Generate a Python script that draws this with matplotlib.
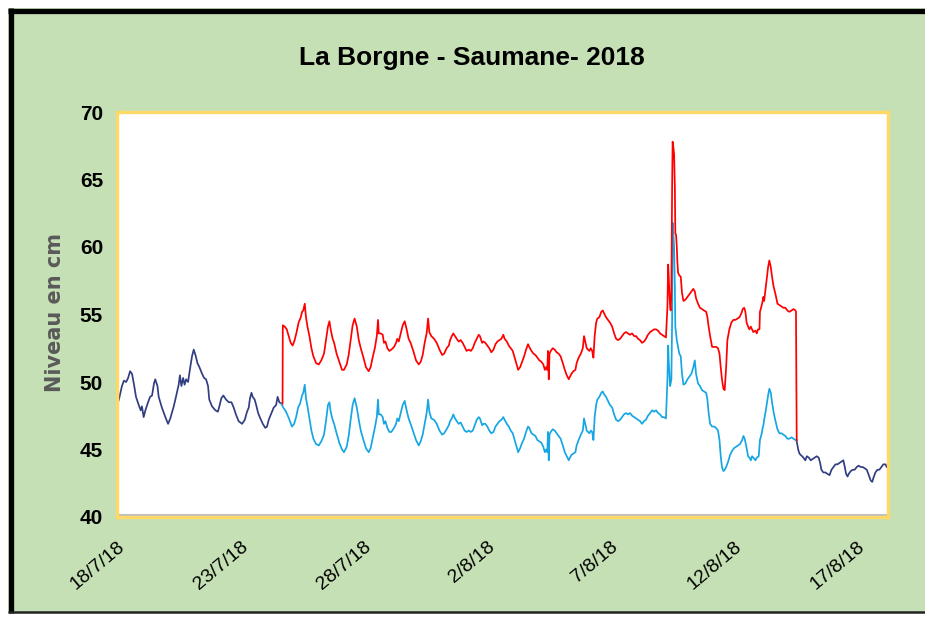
import numpy as np
import matplotlib
matplotlib.use("Agg")
import matplotlib.pyplot as plt
from matplotlib.lines import Line2D
from matplotlib.patches import Rectangle

# days after 18/7/18 00:00, level in cm
navy_start = [(0.00, 48.2), (0.09, 48.8), (0.20, 49.7), (0.28, 50.1), (0.37, 50.0), (0.45, 50.3),
              (0.53, 50.8), (0.61, 50.6), (0.69, 49.8), (0.77, 48.9), (0.88, 48.3), (0.96, 47.9),
              (1.01, 48.2), (1.08, 47.4), (1.15, 47.9), (1.26, 48.5), (1.34, 48.9), (1.42, 49.0),
              (1.50, 49.9), (1.55, 50.2), (1.64, 49.7), (1.69, 48.9), (1.82, 48.1), (1.96, 47.4),
              (2.07, 46.9), (2.16, 47.3), (2.30, 48.2), (2.39, 48.9), (2.50, 49.8), (2.55, 50.5),
              (2.61, 49.7), (2.68, 50.3), (2.74, 49.8), (2.80, 50.2), (2.88, 50.0), (2.97, 51.1),
              (3.04, 51.9), (3.11, 52.4), (3.18, 52.0), (3.26, 51.4), (3.34, 51.1), (3.45, 50.6),
              (3.53, 50.3), (3.61, 50.2), (3.69, 49.7), (3.74, 48.7), (3.85, 48.2), (3.99, 47.9),
              (4.09, 47.8), (4.15, 48.2), (4.23, 48.8), (4.31, 49.0), (4.42, 48.7), (4.53, 48.5),
              (4.64, 48.5), (4.73, 48.1), (4.82, 47.6), (4.93, 47.1), (5.07, 46.9), (5.18, 47.2),
              (5.27, 47.8), (5.34, 48.1), (5.39, 48.8), (5.45, 49.2), (5.50, 48.9), (5.58, 48.7),
              (5.64, 48.3), (5.72, 47.7), (5.81, 47.3), (5.91, 46.9), (6.01, 46.6), (6.08, 46.7),
              (6.15, 47.2), (6.26, 47.7), (6.35, 48.1), (6.45, 48.3), (6.51, 48.9), (6.58, 48.5),
              (6.66, 48.4)]

navy_end = [(27.55, 45.6), (27.61, 45.0), (27.66, 44.7), (27.71, 44.6), (27.77, 44.5), (27.82, 44.4),
            (27.90, 44.2), (27.96, 44.5), (28.04, 44.4), (28.12, 44.2), (28.20, 44.3), (28.28, 44.4),
            (28.36, 44.5), (28.44, 44.4), (28.50, 44.0), (28.55, 43.5), (28.63, 43.3), (28.71, 43.3),
            (28.79, 43.2), (28.88, 43.1), (28.96, 43.5), (29.04, 43.7), (29.12, 43.9), (29.20, 43.9),
            (29.28, 44.0), (29.36, 44.1), (29.44, 44.2), (29.50, 43.7), (29.55, 43.2), (29.61, 43.0),
            (29.66, 43.2), (29.74, 43.4), (29.82, 43.5), (29.90, 43.5), (29.98, 43.7), (30.06, 43.8),
            (30.15, 43.7), (30.23, 43.7), (30.31, 43.6), (30.39, 43.5), (30.47, 43.1), (30.55, 42.7),
            (30.61, 42.6), (30.66, 42.9), (30.74, 43.3), (30.82, 43.5), (30.90, 43.5), (30.98, 43.7),
            (31.06, 43.9), (31.15, 43.9), (31.20, 43.7)]

red = [(6.71, 48.4), (6.72, 54.2), (6.80, 54.1), (6.88, 53.9), (6.96, 53.4), (7.04, 52.9), (7.12, 52.7),
       (7.20, 53.1), (7.28, 53.7), (7.36, 54.4), (7.45, 54.8), (7.50, 55.2), (7.55, 55.3), (7.61, 55.8),
       (7.66, 54.8), (7.72, 54.1), (7.80, 53.4), (7.88, 52.5), (7.96, 51.9), (8.07, 51.4), (8.18, 51.3),
       (8.28, 51.6), (8.39, 52.1), (8.47, 53.1), (8.55, 54.1), (8.61, 54.5), (8.66, 53.9), (8.74, 53.2),
       (8.80, 52.9), (8.90, 52.1), (9.01, 51.5), (9.12, 50.9), (9.20, 50.9), (9.31, 51.3), (9.39, 52.0),
       (9.47, 53.1), (9.55, 54.2), (9.63, 54.7), (9.72, 54.1), (9.80, 53.1), (9.88, 52.5), (9.99, 51.8),
       (10.09, 51.1), (10.20, 50.8), (10.28, 51.1), (10.36, 51.8), (10.45, 52.5), (10.53, 53.4),
       (10.58, 54.6), (10.61, 53.6), (10.69, 53.6), (10.77, 53.5), (10.82, 52.9), (10.88, 53.0),
       (10.96, 52.5), (11.04, 52.3), (11.12, 52.4), (11.23, 52.6), (11.31, 52.9), (11.36, 53.2),
       (11.42, 53.0), (11.50, 53.6), (11.58, 54.2), (11.66, 54.5), (11.74, 53.9), (11.82, 53.2),
       (11.90, 52.9), (12.01, 52.3), (12.12, 51.6), (12.23, 51.3), (12.31, 51.5), (12.39, 52.0),
       (12.47, 52.9), (12.55, 53.6), (12.61, 54.7), (12.66, 53.7), (12.74, 53.4), (12.85, 53.2),
       (12.96, 52.9), (13.07, 52.4), (13.18, 52.0), (13.26, 52.1), (13.36, 52.5), (13.45, 52.7),
       (13.50, 53.1), (13.57, 53.4), (13.63, 53.6), (13.70, 53.4), (13.77, 53.2), (13.85, 53.0),
       (13.93, 53.1), (14.01, 52.9), (14.09, 52.6), (14.17, 52.3), (14.26, 52.4), (14.34, 52.3),
       (14.42, 52.5), (14.50, 52.9), (14.58, 53.2), (14.66, 53.5), (14.71, 53.4), (14.80, 52.9),
       (14.85, 53.0), (14.93, 52.9), (15.01, 52.7), (15.09, 52.5), (15.17, 52.2), (15.26, 52.4),
       (15.34, 52.8), (15.42, 53.0), (15.50, 53.1), (15.58, 53.2), (15.66, 53.5), (15.71, 53.2),
       (15.80, 53.0), (15.88, 52.7), (15.96, 52.5), (16.04, 52.3), (16.12, 51.8), (16.20, 51.3),
       (16.26, 50.9), (16.34, 51.1), (16.42, 51.5), (16.50, 51.9), (16.58, 52.4), (16.66, 52.8),
       (16.71, 52.6), (16.80, 52.3), (16.88, 52.1), (16.96, 52.0), (17.04, 51.8), (17.12, 51.6),
       (17.20, 51.5), (17.28, 51.3), (17.34, 50.9), (17.39, 51.1), (17.44, 50.9), (17.47, 52.3),
       (17.50, 50.2), (17.53, 52.1), (17.58, 52.3), (17.66, 52.5), (17.74, 52.4), (17.82, 52.2),
       (17.90, 52.1), (17.98, 51.9), (18.07, 51.4), (18.15, 50.9), (18.23, 50.5), (18.31, 50.2),
       (18.36, 50.4), (18.42, 50.6), (18.50, 50.8), (18.58, 50.9), (18.63, 51.4), (18.71, 51.8),
       (18.80, 52.1), (18.88, 52.5), (18.93, 53.4), (18.98, 53.0), (19.04, 52.5), (19.09, 52.4),
       (19.15, 52.3), (19.20, 52.5), (19.26, 52.3), (19.31, 51.8), (19.36, 53.4), (19.42, 54.4),
       (19.47, 54.7), (19.55, 54.8), (19.63, 55.2), (19.69, 55.3), (19.74, 55.1), (19.82, 54.8),
       (19.90, 54.6), (19.98, 54.4), (20.07, 54.1), (20.15, 53.6), (20.23, 53.2), (20.31, 53.1),
       (20.39, 53.2), (20.47, 53.4), (20.55, 53.6), (20.63, 53.7), (20.71, 53.6), (20.79, 53.5),
       (20.88, 53.6), (20.96, 53.4), (21.04, 53.4), (21.12, 53.2), (21.20, 53.1), (21.28, 52.9),
       (21.36, 53.0), (21.44, 53.2), (21.52, 53.5), (21.61, 53.7), (21.69, 53.8), (21.77, 53.9),
       (21.85, 53.9), (21.93, 53.8), (22.01, 53.6), (22.09, 53.5), (22.17, 53.4), (22.25, 53.3),
       (22.31, 55.6), (22.34, 58.7), (22.36, 57.8), (22.39, 56.6), (22.42, 55.6), (22.44, 55.3),
       (22.47, 56.6), (22.50, 64.5), (22.52, 67.8), (22.55, 67.4), (22.58, 66.9), (22.61, 64.5),
       (22.63, 61.0), (22.66, 60.9), (22.69, 60.0), (22.71, 59.0), (22.74, 58.1), (22.79, 57.9),
       (22.85, 57.8), (22.90, 56.6), (22.96, 56.0), (23.04, 56.1), (23.12, 56.3), (23.20, 56.5),
       (23.28, 56.7), (23.36, 56.9), (23.42, 56.7), (23.47, 56.2), (23.55, 55.8), (23.63, 55.5),
       (23.71, 55.4), (23.79, 55.3), (23.88, 55.2), (23.93, 54.8), (23.98, 54.1), (24.04, 53.4),
       (24.12, 52.6), (24.20, 52.6), (24.28, 52.6), (24.36, 52.5), (24.42, 52.1), (24.47, 51.1),
       (24.52, 50.2), (24.58, 49.5), (24.63, 49.4), (24.69, 51.1), (24.74, 53.1), (24.82, 53.9),
       (24.90, 54.4), (24.98, 54.6), (25.06, 54.6), (25.15, 54.7), (25.23, 54.8), (25.31, 55.1),
       (25.36, 55.4), (25.42, 55.5), (25.47, 55.2), (25.52, 54.4), (25.58, 54.1), (25.63, 53.9),
       (25.69, 54.1), (25.74, 53.9), (25.79, 53.7), (25.88, 53.8), (25.93, 53.6), (25.98, 53.9),
       (26.04, 53.9), (26.06, 55.2), (26.12, 55.6), (26.17, 56.0), (26.20, 56.3), (26.23, 56.0),
       (26.28, 56.8), (26.34, 57.8), (26.39, 58.5), (26.44, 59.0), (26.50, 58.5), (26.55, 57.8),
       (26.61, 57.1), (26.69, 56.5), (26.77, 55.8), (26.85, 55.7), (26.93, 55.6), (27.01, 55.5),
       (27.09, 55.5), (27.17, 55.3), (27.25, 55.2), (27.34, 55.3), (27.42, 55.4), (27.50, 55.3),
       (27.52, 55.2), (27.55, 45.7)]

blue = [(6.66, 48.4), (6.74, 48.1), (6.82, 47.9), (6.90, 47.6), (6.99, 47.2), (7.09, 46.7), (7.18, 46.9),
        (7.26, 47.4), (7.34, 48.1), (7.42, 48.4), (7.50, 49.0), (7.55, 49.2), (7.61, 49.8), (7.66, 48.8),
        (7.72, 48.2), (7.80, 47.3), (7.88, 46.4), (7.96, 45.8), (8.07, 45.4), (8.18, 45.3), (8.28, 45.6),
        (8.39, 46.1), (8.47, 47.1), (8.55, 48.3), (8.61, 48.5), (8.66, 47.8), (8.74, 47.2), (8.80, 46.9),
        (8.90, 46.2), (9.01, 45.5), (9.12, 45.0), (9.20, 44.8), (9.31, 45.2), (9.39, 46.0), (9.47, 47.2),
        (9.55, 48.3), (9.63, 48.8), (9.72, 48.1), (9.80, 47.2), (9.88, 46.4), (9.99, 45.7), (10.09, 45.1),
        (10.20, 44.8), (10.28, 45.1), (10.36, 45.8), (10.45, 46.6), (10.53, 47.4), (10.58, 48.7),
        (10.61, 47.6), (10.69, 47.6), (10.77, 47.4), (10.82, 46.9), (10.88, 47.1), (10.96, 46.6),
        (11.04, 46.3), (11.12, 46.3), (11.23, 46.6), (11.31, 46.9), (11.36, 47.3), (11.42, 47.1),
        (11.50, 47.7), (11.58, 48.3), (11.66, 48.6), (11.74, 47.9), (11.82, 47.3), (11.90, 46.9),
        (12.01, 46.3), (12.12, 45.7), (12.23, 45.3), (12.31, 45.6), (12.39, 46.1), (12.47, 46.9),
        (12.55, 47.7), (12.61, 48.7), (12.66, 47.8), (12.74, 47.3), (12.85, 47.2), (12.96, 46.9),
        (13.07, 46.4), (13.18, 46.1), (13.26, 46.2), (13.36, 46.5), (13.45, 46.8), (13.50, 47.1),
        (13.57, 47.3), (13.63, 47.6), (13.70, 47.3), (13.77, 47.1), (13.85, 46.9), (13.93, 47.0),
        (14.01, 46.7), (14.09, 46.4), (14.17, 46.3), (14.26, 46.4), (14.34, 46.3), (14.42, 46.4),
        (14.50, 46.8), (14.58, 47.2), (14.66, 47.4), (14.71, 47.3), (14.80, 46.8), (14.85, 46.9),
        (14.93, 46.9), (15.01, 46.7), (15.09, 46.4), (15.17, 46.2), (15.26, 46.3), (15.34, 46.7),
        (15.42, 46.9), (15.50, 47.1), (15.58, 47.2), (15.66, 47.4), (15.71, 47.2), (15.80, 46.9),
        (15.88, 46.7), (15.96, 46.4), (16.04, 46.2), (16.12, 45.7), (16.20, 45.2), (16.26, 44.8),
        (16.34, 45.1), (16.42, 45.5), (16.50, 45.8), (16.58, 46.3), (16.66, 46.7), (16.71, 46.6),
        (16.80, 46.2), (16.88, 46.1), (16.96, 46.0), (17.04, 45.7), (17.12, 45.6), (17.20, 45.5),
        (17.28, 45.2), (17.34, 44.8), (17.39, 45.0), (17.44, 44.8), (17.47, 46.3), (17.50, 44.2),
        (17.53, 46.1), (17.58, 46.3), (17.66, 46.5), (17.74, 46.4), (17.82, 46.2), (17.90, 46.0),
        (17.98, 45.8), (18.07, 45.3), (18.15, 44.8), (18.23, 44.5), (18.31, 44.2), (18.36, 44.4),
        (18.42, 44.6), (18.50, 44.7), (18.58, 44.8), (18.63, 45.3), (18.71, 45.7), (18.80, 46.1),
        (18.88, 46.4), (18.93, 47.3), (18.98, 46.9), (19.04, 46.4), (19.09, 46.3), (19.15, 46.2),
        (19.20, 46.4), (19.26, 46.3), (19.31, 45.7), (19.36, 47.4), (19.42, 48.3), (19.47, 48.7),
        (19.55, 48.9), (19.63, 49.2), (19.69, 49.3), (19.74, 49.1), (19.82, 48.9), (19.90, 48.6),
        (19.98, 48.3), (20.07, 48.1), (20.15, 47.6), (20.23, 47.2), (20.31, 47.1), (20.39, 47.2),
        (20.47, 47.4), (20.55, 47.6), (20.63, 47.7), (20.71, 47.6), (20.79, 47.7), (20.88, 47.5),
        (20.96, 47.4), (21.04, 47.3), (21.12, 47.2), (21.20, 47.1), (21.28, 46.9), (21.36, 47.1),
        (21.44, 47.2), (21.52, 47.5), (21.61, 47.7), (21.69, 47.9), (21.77, 47.8), (21.85, 47.9),
        (21.93, 47.7), (22.01, 47.6), (22.09, 47.4), (22.17, 47.4), (22.25, 47.3), (22.31, 50.2),
        (22.34, 52.7), (22.36, 51.6), (22.39, 50.6), (22.42, 49.7), (22.44, 49.9), (22.47, 50.2),
        (22.50, 54.6), (22.52, 61.8), (22.55, 61.0), (22.58, 60.0), (22.61, 57.1), (22.63, 54.1),
        (22.66, 53.6), (22.69, 53.1), (22.74, 52.6), (22.79, 52.1), (22.85, 51.9), (22.90, 50.6),
        (22.96, 49.8), (23.04, 49.9), (23.12, 50.2), (23.20, 50.4), (23.28, 50.6), (23.36, 51.1),
        (23.42, 51.6), (23.47, 50.6), (23.55, 49.9), (23.63, 49.7), (23.71, 49.4), (23.79, 49.3),
        (23.88, 49.2), (23.93, 48.7), (23.98, 47.7), (24.04, 46.9), (24.12, 46.7), (24.20, 46.7),
        (24.28, 46.6), (24.36, 46.4), (24.42, 45.7), (24.47, 44.5), (24.52, 43.7), (24.58, 43.4),
        (24.63, 43.5), (24.69, 43.7), (24.77, 44.1), (24.85, 44.6), (24.93, 44.9), (25.01, 45.1),
        (25.09, 45.2), (25.17, 45.3), (25.25, 45.4), (25.34, 45.7), (25.39, 46.0), (25.44, 45.8),
        (25.50, 45.3), (25.58, 44.5), (25.63, 44.4), (25.69, 44.2), (25.74, 44.5), (25.79, 44.4),
        (25.88, 44.2), (25.93, 44.4), (26.01, 44.5), (26.06, 45.7), (26.12, 46.1), (26.17, 46.6),
        (26.20, 46.8), (26.23, 47.2), (26.28, 47.7), (26.34, 48.4), (26.39, 49.0), (26.44, 49.5),
        (26.50, 49.2), (26.55, 48.5), (26.61, 47.8), (26.69, 47.1), (26.77, 46.5), (26.85, 46.2),
        (26.93, 46.2), (27.01, 46.1), (27.09, 46.0), (27.17, 45.8), (27.25, 45.8), (27.34, 45.9),
        (27.42, 45.8), (27.50, 45.7), (27.55, 45.7)]

tick_days = [0, 5, 10, 15, 20, 25, 30]
tick_labels = ["18/7/18", "23/7/18", "28/7/18", "2/8/18", "7/8/18", "12/8/18", "17/8/18"]
y_ticks = [40, 45, 50, 55, 60, 65, 70]

green = "#C5E0B4"
yellow = "#FFD966"
sans = ["Liberation Sans", "DejaVu Sans"]

fig = plt.figure(figsize=(9.25, 6.17), dpi=100, facecolor="white")
W, H = 925, 617

# green chart area with black frame (top, left, bottom), kept behind the axes
fig.patches.append(Rectangle((8 / W, 1 - 613 / H), 1, (613 - 8) / H, transform=fig.transFigure,
                             facecolor=green, edgecolor="none", zorder=-2))
frame = dict(transform=fig.transFigure, solid_capstyle="butt", zorder=-1)
fig.lines.append(Line2D([8 / W, 1], [1 - 10.5 / H] * 2, color="black", lw=3.8, **frame))
fig.lines.append(Line2D([10.5 / W] * 2, [1 - 613 / H, 1 - 8 / H], color="black", lw=3.8, **frame))
fig.lines.append(Line2D([8 / W, 1], [1 - 612 / H] * 2, color="#222222", lw=1.8, **frame))

ax = fig.add_axes([117 / W, 1 - 517 / H, (888 - 117) / W, (517 - 112) / H])
ax.set_facecolor("white")

for pts, col in [(navy_start, "#323E82"), (navy_end, "#323E82"), (blue, "#16A6E4"), (red, "#FF0000")]:
    d, v = np.array(pts).T
    ax.plot(d, v, color=col, lw=1.25, solid_joinstyle="round")

ax.set_xlim(0, 31.25)
ax.set_ylim(40, 70)
ax.plot([0, 1], [0.004, 0.004], transform=ax.transAxes, color="#BFBFBF", lw=1.5)
for s in ax.spines.values():
    s.set_color(yellow)
    s.set_linewidth(2.4)

ax.set_yticks(y_ticks)
ax.set_yticklabels([str(t) for t in y_ticks], fontsize=15, fontweight="bold", family=sans)
ax.set_xticks(tick_days)
ax.set_xticklabels(tick_labels, fontsize=14, family=sans, rotation=40,
                   ha="right", va="top", rotation_mode="anchor")
ax.tick_params(axis="both", length=0)
ax.tick_params(axis="y", pad=10)
ax.tick_params(axis="x", pad=15)

fig.text(472 / W, 1 - 58 / H, "La Borgne - Saumane- 2018", ha="center", va="center",
         fontsize=19, fontweight="bold", family=sans)
fig.text(55 / W, 1 - 313 / H, "Niveau en cm", rotation=90, ha="center", va="center",
         fontsize=15, fontweight="bold", color="#595959", family="DejaVu Sans")

fig.savefig("out.png", dpi=100, facecolor="white")
